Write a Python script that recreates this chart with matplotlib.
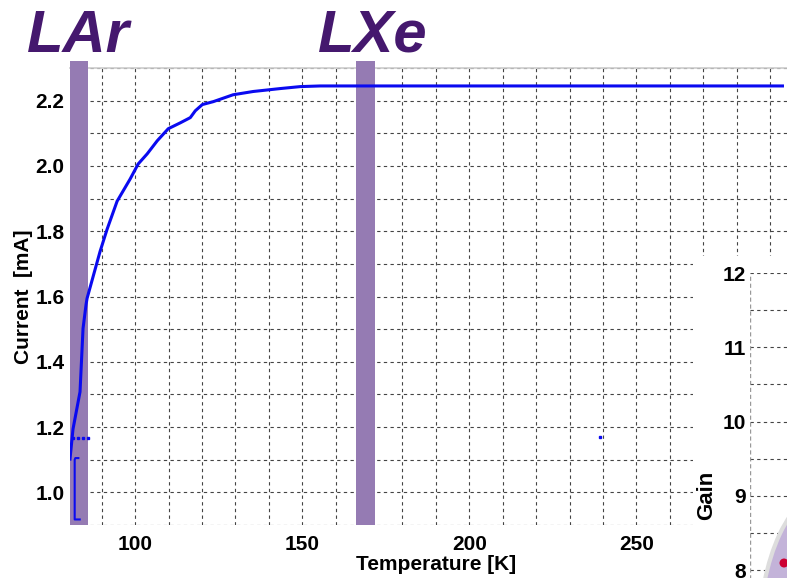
import matplotlib.pyplot as plt
from matplotlib.patches import Ellipse, Rectangle
from matplotlib.ticker import MultipleLocator

plt.rcParams['font.family'] = ['Liberation Sans', 'DejaVu Sans']

# main current vs temperature trace
temp = [80.5, 81.4, 83.5, 84.4, 85.3, 85.6, 89.5, 91.6, 94.6, 98.5, 100.9, 103.6,
        106.6, 109.9, 113.5, 116.5, 118.0, 120.1, 123.4, 129.3, 135.3, 143.4,
        149.4, 155.4, 200.0, 250.0, 293.7]
current = [1.102, 1.194, 1.308, 1.502, 1.575, 1.594, 1.738, 1.806, 1.892, 1.960,
           2.006, 2.037, 2.077, 2.114, 2.132, 2.148, 2.169, 2.188, 2.197, 2.218,
           2.228, 2.237, 2.243, 2.245, 2.245, 2.245, 2.245]

# cold start segment at the bottom
start_temp = [83.4, 81.9, 81.9, 82.1, 83.0]
start_current = [0.917, 0.917, 1.10, 1.105, 1.105]

# stray readings
stray_temp = [81.5, 83.0, 84.5, 85.8, 239.2]
stray_current = [1.166, 1.166, 1.166, 1.166, 1.169]

lar_band = (80.5, 85.9)
lxe_band = (166.2, 171.9)

x_ticks = [100, 150, 200, 250]
y_ticks = [1.0, 1.2, 1.4, 1.6, 1.8, 2.0, 2.2]
gain_ticks = [8, 9, 10, 11, 12]

purple = '#957BB3'
dark_purple = '#45186E'
grid_kw = dict(color='#444444', linestyle=(0, (3, 3)), linewidth=0.8)

W, H = 787, 578
fig = plt.figure(figsize=(W / 100, H / 100), dpi=100)

ax = fig.add_axes([70 / W, 1 - 525 / H, 733.5 / W, 457 / H])
ax.set_xlim(80.5, 300)
ax.set_ylim(0.9, 2.3)

for s in ['left', 'right', 'bottom']:
    ax.spines[s].set_visible(False)
ax.spines['top'].set_color('#cccccc')
ax.spines['top'].set_linewidth(1.2)

ax.set_xticks(x_ticks)
ax.set_yticks(y_ticks)
ax.set_yticklabels([f'{v:.1f}' for v in y_ticks])
ax.xaxis.set_minor_locator(MultipleLocator(10))
ax.yaxis.set_minor_locator(MultipleLocator(0.1))
ax.tick_params(which='both', length=0)
ax.tick_params(axis='x', pad=7)
ax.tick_params(axis='y', pad=4)
for lab in ax.get_xticklabels() + ax.get_yticklabels():
    lab.set_fontsize(15)
    lab.set_fontweight('bold')
ax.grid(True, which='both', **grid_kw)
ax.set_axisbelow(True)

ax.axvspan(*lar_band, ymin=0, ymax=1.016, color=purple, clip_on=False, zorder=3, lw=0)
ax.axvspan(*lxe_band, ymin=0, ymax=1.016, color=purple, clip_on=False, zorder=3, lw=0)

ax.plot(temp, current, color='#0a0af0', lw=2.2, zorder=4)
ax.plot(start_temp, start_current, color='#0a0af0', lw=1.5, zorder=4)
ax.plot(stray_temp, stray_current, ls='none', marker='s', ms=1.6, color='#0a0af0', zorder=4)

ax.set_xlabel('Temperature [K]', fontsize=15, fontweight='bold')
ax.set_ylabel('Current  [mA]', fontsize=15, fontweight='bold')
ax.xaxis.set_label_coords((436 - 70) / 733.5, -0.066)
ax.yaxis.set_label_coords(-0.051, 0.5)

fig.text(27 / W, 1 - 52 / H, 'LAr', fontsize=43, fontweight='bold', style='italic',
         color=dark_purple, va='baseline', ha='left')
fig.text(318 / W, 1 - 52 / H, 'LXe', fontsize=43, fontweight='bold', style='italic',
         color=dark_purple, va='baseline', ha='left')

# overlapping gain panel in the lower right corner
fig.patches.append(Rectangle((693 / W, 0), 1, 1 - 256 / H, transform=fig.transFigure,
                             facecolor='white', edgecolor='none', zorder=5))

ax2 = fig.add_axes([750 / W, 1 - 644.5 / H, 0.2, 371.5 / H], zorder=6)
ax2.set_ylim(7, 12)
ax2.set_xlim(0, 1)
ax2.patch.set_alpha(0)
for s in ax2.spines.values():
    s.set_visible(False)
ax2.set_xticks([])
ax2.set_yticks(gain_ticks)
ax2.yaxis.set_minor_locator(MultipleLocator(0.5))
ax2.tick_params(which='both', length=0, pad=3)
for lab in ax2.get_yticklabels():
    lab.set_fontsize(15)
    lab.set_fontweight('bold')
ax2.grid(True, axis='y', which='both', **grid_kw)
ax2.axvline(0, color='#999999', linestyle=(0, (3, 2)), lw=1.0)
fig.text(707 / W, 1 - 495 / H, 'Gain', rotation=90, fontsize=16, fontweight='bold',
         ha='center', va='center', zorder=7)

ell = Ellipse((830, H - 640), 142, 300, transform=None, facecolor='#C3B3D9',
              edgecolor='#dddddd', lw=3, zorder=7)
fig.patches.append(ell)
dot = Ellipse((784, H - 563), 9, 9, transform=None, facecolor='#CC0033',
              edgecolor='none', zorder=8)
fig.patches.append(dot)

fig.savefig('out.png', dpi=100)
